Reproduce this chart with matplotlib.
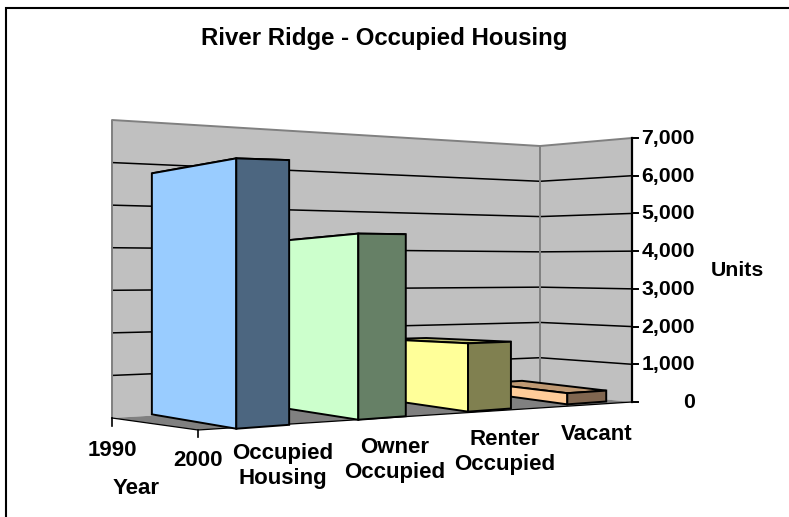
# River Ridge occupied housing, Excel style 3D column chart

import numpy as np
import matplotlib
matplotlib.use("Agg")
import matplotlib.pyplot as plt
from matplotlib.patches import Polygon

categories = ["Occupied\nHousing", "Owner\nOccupied", "Renter\nOccupied", "Vacant"]
units_2000 = [5770, 4180, 1620, 280]
year_labels = ["1990", "2000"]
value_ticks = [0, 1000, 2000, 3000, 4000, 5000, 6000, 7000]
face_colors = ["#99CCFF", "#CCFFCC", "#FFFF99", "#FFCC99"]
side_colors = ["#4C6680", "#668066", "#808050", "#806650"]
top_colors = ["#7399BF", "#99BF99", "#BFBF73", "#BF9973"]

# wall columns: x, pixel y of value 0, pixel y of value 7000
left_col = (112, 418, 120)
corner_col = (540, 393, 146)
right_col = (632, 402, 138)
front_corner = (198, 430)

# bar calibration: floor (u = category, v = depth) to pixels, and pixels per unit
floor_uv = [(0.29, 0.95), (0.71, 0.95), (0.29, 0.05), (1.29, 0.95), (1.71, 0.95),
            (2.29, 0.95), (2.71, 0.95), (3.29, 0.95), (3.71, 0.95), (3.71, 0.05)]
floor_px = [(236, 427), (288, 424), (152, 417), (360, 419), (406, 416),
            (468, 411), (510, 410), (568, 405), (606, 403), (522, 388)]
scale_uv = [(0.29, 0.95), (0.71, 0.95), (0.29, 0.05), (1.29, 0.95), (1.71, 0.95), (2.29, 0.95), (2.71, 0.95)]
scale_val = [271 / 5770, 266 / 5770, 241 / 5770, 185 / 4180, 182 / 4180, 67 / 1620, 68 / 1620]

rows = []
for (u, v), (px, py) in zip(floor_uv, floor_px):
    rows.append([u, v, 1, 0, 0, 0, -px * u, -px * v, -px])
    rows.append([0, 0, 0, u, v, 1, -py * u, -py * v, -py])
floor_h = np.linalg.svd(np.array(rows))[2][-1].reshape(3, 3)
scale_fit = np.linalg.lstsq(np.array([[1, u, v] for u, v in scale_uv]), np.array(scale_val), rcond=None)[0]


def bp(u, v, val):
    p = floor_h @ np.array([u, v, 1.0])
    return p[0] / p[2], p[1] / p[2] - val * (scale_fit @ np.array([1, u, v]))


def wp(col, val):
    return col[0], col[1] + (col[2] - col[1]) * val / value_ticks[-1]


fig = plt.figure(figsize=(7.89, 5.17), dpi=100)
ax = fig.add_axes([0, 0, 1, 1])
ax.set_xlim(0, 789)
ax.set_ylim(517, 0)
ax.axis("off")
plt.rcParams["font.family"] = ["Liberation Sans", "DejaVu Sans"]
bold = dict(fontweight="bold", color="black", fontsize=16, ha="center", va="center", zorder=20)

# only the left and top of the chart frame show in the crop
ax.plot([6, 6, 789], [517, 8, 8], color="black", lw=1.5, solid_joinstyle="miter", zorder=0)

top = value_ticks[-1]
# walls and floor
ax.add_patch(Polygon([wp(left_col, 0), wp(corner_col, 0), wp(corner_col, top), wp(left_col, top)], fc="#C0C0C0", ec="none", zorder=1))
ax.add_patch(Polygon([wp(corner_col, 0), wp(right_col, 0), wp(right_col, top), wp(corner_col, top)], fc="#C0C0C0", ec="none", zorder=1))
ax.add_patch(Polygon([wp(left_col, 0), wp(corner_col, 0), wp(right_col, 0), front_corner], fc="#808080", ec="none", zorder=1))

# gridlines
for val in value_ticks[1:-1]:
    pts = [wp(left_col, val), wp(corner_col, val), wp(right_col, val)]
    ax.plot(*zip(*pts), color="black", lw=1.1, solid_joinstyle="miter", zorder=2)
edge = [wp(left_col, 0), wp(left_col, top), wp(corner_col, top), wp(right_col, top)]
ax.plot(*zip(*edge), color="#808080", lw=1.4, zorder=2)
ax.plot(*zip(wp(corner_col, 0), wp(corner_col, top)), color="#808080", lw=1.4, zorder=3)
ax.plot(*zip(wp(left_col, 0), front_corner, wp(right_col, 0)), color="black", lw=0.9, zorder=3)

# bars, far ones first so the near ones hide them
u0, u1 = 0.29, 0.71
v0, v1 = 0.05, 0.95
for i in range(len(units_2000)):
    h = units_2000[i]
    a, b = i + u0, i + u1
    z = 10 - i
    ax.add_patch(Polygon([bp(a, v0, h), bp(b, v0, h), bp(b, v1, h), bp(a, v1, h)],
                         fc=top_colors[i], ec="black", lw=1.4, joinstyle="miter", zorder=z))
    ax.add_patch(Polygon([bp(a, v0, 0), bp(a, v1, 0), bp(a, v1, h), bp(a, v0, h)],
                         fc=face_colors[i], ec="black", lw=1.4, joinstyle="miter", zorder=z))
    ax.add_patch(Polygon([bp(a, v1, 0), bp(b, v1, 0), bp(b, v1, h), bp(a, v1, h)],
                         fc=side_colors[i], ec="black", lw=1.4, joinstyle="miter", zorder=z))

# axes
ax.plot(*zip(wp(right_col, 0), wp(right_col, top)), color="black", lw=1.6, zorder=12)
for val in value_ticks:
    x, y = wp(right_col, val)
    ax.plot([x, x + 6], [y, y], color="black", lw=1.4, zorder=12)
    ax.text(695, y + 0.5, f"{val:,}" if val else "0", **{**bold, "ha": "right", "fontsize": 15.3})
ax.plot([left_col[0], left_col[0]], [left_col[1], left_col[1] + 8], color="black", lw=1.2, zorder=12)
ax.plot([front_corner[0], front_corner[0]], [front_corner[1], front_corner[1] + 7], color="black", lw=1.2, zorder=12)

ax.text(384, 39, "River Ridge - Occupied Housing", **{**bold, "fontsize": 17.3})
ax.text(737, 271, "Units", **{**bold, "fontsize": 15.3})
ax.text(136, 489, "Year", **bold)
ax.text(112, 451, year_labels[0], **bold)
ax.text(198, 461, year_labels[1], **bold)
cat_pos = [(283, 466), (395, 460), (505, 452), (597, 435)]
for (x, y), name in zip(cat_pos, categories):
    ax.text(x, y, name, linespacing=1.3, **bold)

fig.savefig("out.png", dpi=100)
